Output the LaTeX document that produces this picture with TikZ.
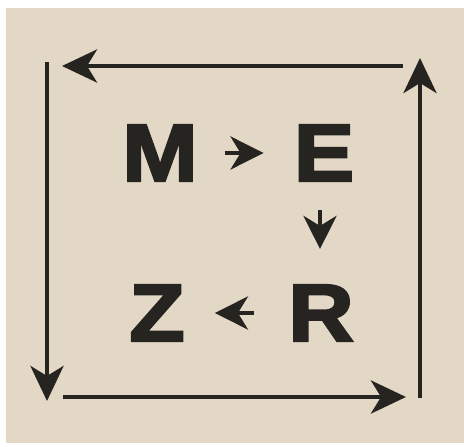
\documentclass[tikz,border=0pt]{standalone}
\usepackage{fontspec}
\newfontfamily\letterfont[FakeBold=3, FakeStretch=1.12]{Liberation Sans Bold}
\usetikzlibrary{arrows.meta}
\definecolor{paper}{RGB}{227,215,197}
\definecolor{ink}{RGB}{38,36,33}

\begin{document}
\begin{tikzpicture}[x=1pt, y=-1pt,
  letter/.style={inner sep=0pt, text=ink, font=\letterfont\fontsize{81}{81}\selectfont},
  loop/.style={draw=ink, line width=4.6pt, -{Stealth[length=35pt, width=33pt, inset=10pt]}},
  link/.style={draw=ink, line width=4.6pt, -{Stealth[length=33pt, width=33pt, inset=10pt]}}
]
\useasboundingbox (0,0) rectangle (464,447);
\fill[white] (0,0) rectangle (464,447);
\fill[paper] (6,8) rectangle (464,443);
\node[letter] (M) at (160,153) {M};
\node[letter] (E) at (324,153) {E};
\node[letter] (Z) at (157,313) {Z};
\node[letter] (R) at (321,313) {R};
\draw[link, shorten <=27pt, shorten >=30pt] (M) -- (E);
\draw[link, shorten <=29pt, shorten >=36pt] (E.south -| 320,0) -- (R.north -| 320,0);
\draw[link, shorten <=34pt, shorten >=30pt] (R) -- (Z);
\coordinate (tr) at (403,66);  \coordinate (tl) at (62,66);
\coordinate (lt) at (47,62);   \coordinate (lb) at (47,401);
\coordinate (bl) at (63,397);  \coordinate (br) at (406,397);
\coordinate (rb) at (420,398); \coordinate (rt) at (420,58);
\draw[loop] (tr) -- (tl);
\draw[loop] (lt) -- (lb);
\draw[loop] (bl) -- (br);
\draw[loop] (rb) -- (rt);
\end{tikzpicture}
\end{document}
